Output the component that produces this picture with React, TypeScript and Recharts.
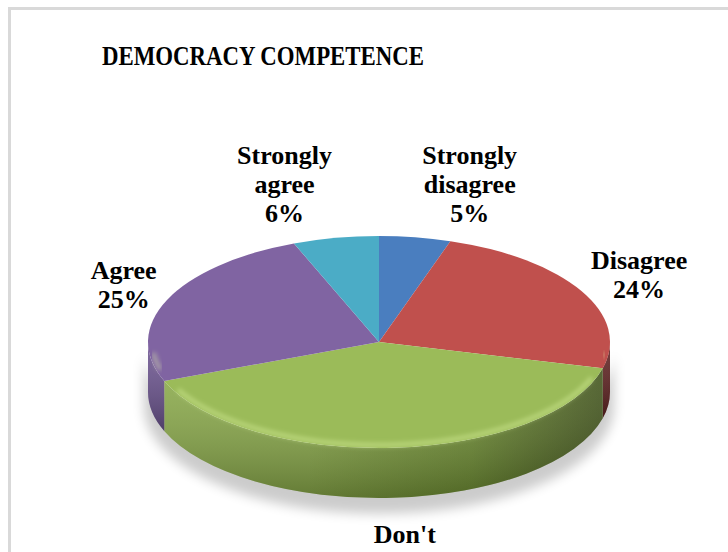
import React from 'react'
import { PieChart, Pie, Cell } from 'recharts'

// Democracy competence survey, share of answers in %
const categories = ['Strongly disagree', 'Disagree', "Don't know", 'Agree', 'Strongly agree']
const shares = [5, 24, 40, 25, 6]
const title = 'DEMOCRACY COMPETENCE'

const topColors = ['#4a7ebf', '#c0504d', '#9bbb59', '#8064a2', '#4bacc6']
// wall gradient: left / middle / right
const wallColors = [
  ['#3d6495', '#2f4f78', '#1e3553'],
  ['#a5403d', '#8f3532', '#5e2120'],
  ['#8aaa49', '#6f8e33', '#3e5019'],
  ['#6c5490', '#594578', '#3a2c50'],
  ['#3f97ae', '#2f7f94', '#1e5868'],
]

const data = categories.map((name, i) => ({ name, value: shares[i] }))

const W = 728
const H = 552
const CX = 379
const CY = 342
const RX = 231
const RY = 106
const DEPTH = 50
const TILT = RY / RX
const FONT = "'Liberation Serif', 'Times New Roman', serif"
const LABEL_SIZE = 26
const LINE = 29
const RAD = Math.PI / 180

const pt = (cx: number, cy: number, rx: number, ry: number, a: number) => [
  cx + rx * Math.cos(a * RAD),
  cy - ry * Math.sin(a * RAD),
]

let ctx: CanvasRenderingContext2D | null = null
function measure(text: string) {
  if (!ctx && typeof document !== 'undefined') {
    ctx = document.createElement('canvas').getContext('2d')
  }
  if (!ctx) return text.length * LABEL_SIZE * 0.5
  ctx.font = `bold ${LABEL_SIZE}px 'Liberation Serif'`
  return ctx.measureText(text).width
}

function Slice3D(props: any) {
  const { cx, cy, outerRadius, startAngle, endAngle, index } = props
  const rx = outerRadius
  const ry = outerRadius * TILT
  const hi = Math.max(startAngle, endAngle)
  const lo = Math.min(startAngle, endAngle)
  const p1 = pt(cx, cy, rx, ry, hi)
  const p2 = pt(cx, cy, rx, ry, lo)
  const large = hi - lo > 180 ? 1 : 0
  const top = `M${cx},${cy} L${p1[0]},${p1[1]} A${rx},${ry} 0 ${large} 1 ${p2[0]},${p2[1]} Z`

  // front wall = part of the arc in the lower half
  const wHi = Math.min(hi, 0)
  const wLo = Math.max(lo, -180)
  let wall: string | null = null
  let rim: string | null = null
  if (wHi > wLo) {
    const a = pt(cx, cy, rx, ry, wHi)
    const b = pt(cx, cy, rx, ry, wLo)
    const wl = wHi - wLo > 180 ? 1 : 0
    wall = `M${a[0]},${a[1]} A${rx},${ry} 0 ${wl} 1 ${b[0]},${b[1]} L${b[0]},${b[1] + DEPTH} A${rx},${ry} 0 ${wl} 0 ${a[0]},${a[1] + DEPTH} Z`
    const ra = pt(cx, cy, rx - 4, ry - 3, wHi - 6)
    const rb = pt(cx, cy, rx - 4, ry - 3, wLo + 6)
    rim = `M${ra[0]},${ra[1]} A${rx - 4},${ry - 3} 0 ${wl} 1 ${rb[0]},${rb[1]}`
  }

  // shadow under the whole pie, drawn once by the first slice
  const sl = pt(cx, cy, rx, ry, 0)
  const sr = pt(cx, cy, rx, ry, -180)
  const shadow = `M${sl[0] + 4},${sl[1]} A${rx},${ry} 0 0 1 ${sr[0] - 4},${sr[1]} L${sr[0] - 4},${sr[1] + DEPTH + 6} A${rx},${ry} 0 0 0 ${sl[0] + 4},${sl[1] + DEPTH + 6} Z`

  const wc = wallColors[index]
  return (
    <g>
      <defs>
        <linearGradient id={`wall-${index}`} gradientUnits="userSpaceOnUse" x1={cx - rx} y1={0} x2={cx + rx} y2={0}>
          <stop offset="0" stopColor={wc[0]} />
          <stop offset="0.35" stopColor={wc[0]} />
          <stop offset="0.7" stopColor={wc[1]} />
          <stop offset="1" stopColor={wc[2]} />
        </linearGradient>
        <linearGradient id={`wallv-${index}`} x1="0" y1="0" x2="0" y2="1">
          <stop offset="0" stopColor="#ffffff" stopOpacity={0.12} />
          <stop offset="1" stopColor="#000000" stopOpacity={0.28} />
        </linearGradient>
        <filter id={`blur-${index}`} x="-20%" y="-50%" width="140%" height="200%">
          <feGaussianBlur stdDeviation="6" />
        </filter>
        <filter id={`rimblur-${index}`} x="-10%" y="-50%" width="120%" height="200%">
          <feGaussianBlur stdDeviation="2" />
        </filter>
      </defs>
      {index === 0 && (
        <path d={shadow} fill="#000" opacity={0.2} filter={`url(#blur-${index})`} transform="translate(0,8)" />
      )}
      {wall && <path d={wall} fill={`url(#wall-${index})`} />}
      {wall && <path d={wall} fill={`url(#wallv-${index})`} />}
      <path d={top} fill={topColors[index]} />
      {rim && (
        <path
          d={rim}
          fill="none"
          stroke="#e8ffb0"
          strokeOpacity={0.35}
          strokeWidth={5}
          filter={`url(#rimblur-${index})`}
        />
      )}
    </g>
  )
}

function renderLabel(props: any) {
  const { cx, cy, midAngle, outerRadius, index } = props
  const rx = outerRadius + 20
  const ry = outerRadius * TILT + 20
  const c = Math.cos(midAngle * RAD)
  const s = Math.sin(midAngle * RAD)
  const px = cx + rx * c
  let py = cy - ry * s
  const lines = [...categories[index].split(' '), `${shares[index]}%`]
  const w = Math.max(...lines.map(measure))
  let centerX: number
  let first: number
  if (s > 0.6) {
    centerX = c >= 0 ? px + 4 + w / 2 : px - w / 2
    first = py + 4 - (lines.length - 1) * LINE
  } else if (s < -0.6) {
    py += DEPTH
    centerX = px + 10
    first = py + 25
  } else {
    centerX = c >= 0 ? px - 8 + w / 2 : px + 8 - w / 2
    first = py + 2 - ((lines.length - 1) * LINE) / 2
  }
  return (
    <text
      key={`label-${index}`}
      x={centerX}
      textAnchor="middle"
      fontFamily={FONT}
      fontWeight="bold"
      fontSize={LABEL_SIZE}
      fill="#000"
    >
      {lines.map((l, i) => (
        <tspan key={i} x={centerX} y={first + i * LINE}>
          {l}
        </tspan>
      ))}
    </text>
  )
}

export default function App() {
  return (
    <div style={{ position: 'absolute', left: 0, top: 0, width: W, height: H, overflow: 'hidden', background: '#fff' }}>
      <div
        style={{
          position: 'absolute',
          left: 8,
          top: 7,
          width: W,
          height: H,
          borderTop: '3px solid #d9d9d9',
          borderLeft: '3px solid #d9d9d9',
        }}
      />
      <div style={{ position: 'absolute', left: 0, top: 0 }}>
        <PieChart width={W} height={H} margin={{ top: 0, right: 0, bottom: 0, left: 0 }}>
          <Pie
            data={data}
            dataKey="value"
            nameKey="name"
            cx={CX}
            cy={CY}
            outerRadius={RX}
            startAngle={90}
            endAngle={-270}
            stroke="none"
            shape={Slice3D}
            activeShape={Slice3D}
            inactiveShape={Slice3D}
            label={renderLabel}
            labelLine={false}
            isAnimationActive={false}
          >
            {data.map((d, i) => (
              <Cell key={d.name} fill={topColors[i]} />
            ))}
          </Pie>
        </PieChart>
      </div>
      <svg width={W} height={H} style={{ position: 'absolute', left: 0, top: 0, pointerEvents: 'none' }}>
        <text
          x={263}
          y={65}
          textAnchor="middle"
          fontFamily={FONT}
          fontWeight="bold"
          fontSize={28}
          textLength={322}
          lengthAdjust="spacingAndGlyphs"
          fill="#000"
        >
          {title}
        </text>
      </svg>
    </div>
  )
}
